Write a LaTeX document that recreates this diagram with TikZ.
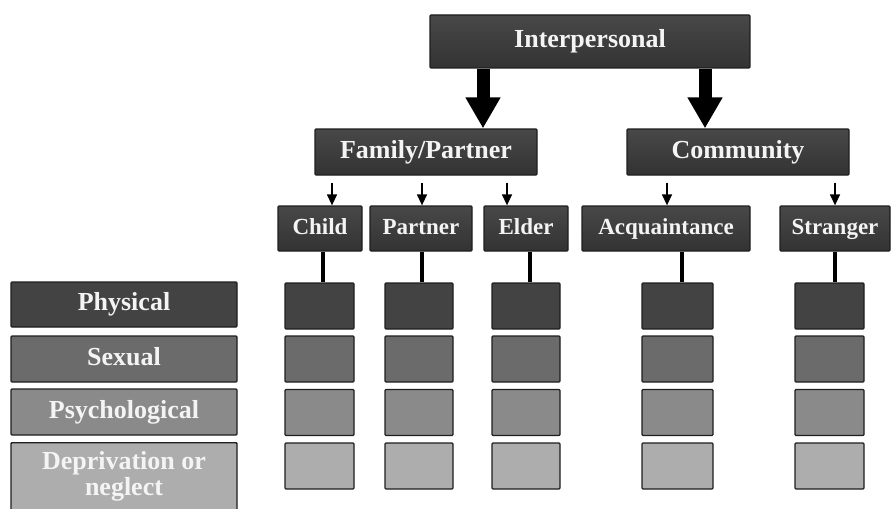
\documentclass[tikz,border=0pt]{standalone}
\usepackage{fontspec}
\setmainfont{Liberation Serif}
\usetikzlibrary{arrows.meta}
\definecolor{topA}{HTML}{484848}
\definecolor{topB}{HTML}{333333}
\definecolor{rowA}{HTML}{434343}
\definecolor{rowB}{HTML}{6B6B6B}
\definecolor{rowC}{HTML}{8A8A8A}
\definecolor{rowD}{HTML}{ADADAD}
\definecolor{edge}{HTML}{1E1E1E}
\definecolor{txt}{HTML}{F4F4F4}
\begin{document}
\begin{tikzpicture}[x=1pt,y=-1pt,
  base/.style={draw=edge, line width=1.3pt, inner sep=0pt, rounded corners=1pt, text=txt},
  bigtxt/.style={font=\fontsize{26}{28}\selectfont\bfseries, text height=18pt, text depth=6pt},
  smalltxt/.style={font=\fontsize{23}{25}\selectfont\bfseries, text height=16pt, text depth=5pt},
  catbox/.style={base, top color=topA, bottom color=topB, bigtxt},
  subbox/.style={base, top color=topA, bottom color=topB, smalltxt, minimum height=45pt},
  cell/.style={base, minimum height=46pt},
  bigarrow/.style={line width=13pt, -{Triangle[width=33pt,length=31pt]}},
  smallarrow/.style={line width=1.4pt, -{Triangle[width=10pt,length=11pt]}, shorten <=7pt},
  stem/.style={line width=4pt}
]
\useasboundingbox (0,0) rectangle (893,508);

% top level
\node[catbox, minimum width=320pt, minimum height=53pt] (ip) at (590,41.5) {Interpersonal};
\node[catbox, minimum width=222pt, minimum height=46pt] (fam) at (426,152) {Family/Partner};
\node[catbox, minimum width=222pt, minimum height=46pt] (com) at (738,152) {Community};

\draw[bigarrow] ([xshift=57pt]fam.north |- ip.south) -- ([xshift=57pt]fam.north);
\draw[bigarrow] ([xshift=-33pt]com.north |- ip.south) -- ([xshift=-33pt]com.north);

% second level
\node[subbox, minimum width=84pt] (child) at (320,228.5) {Child};
\node[subbox, minimum width=102pt] (partner) at (421,228.5) {Partner};
\node[subbox, minimum width=84pt] (elder) at (526,228.5) {Elder};
\node[subbox, minimum width=168pt] (acq) at (666,228.5) {Acquaintance};
\node[subbox, minimum width=110pt] (str) at (835,228.5) {Stranger};

\draw[smallarrow] ([xshift=12pt]child.north |- fam.south) -- ([xshift=12pt]child.north);
\draw[smallarrow] ([xshift=1pt]partner.north |- fam.south) -- ([xshift=1pt]partner.north);
\draw[smallarrow] ([xshift=-19pt]elder.north |- fam.south) -- ([xshift=-19pt]elder.north);
\draw[smallarrow] ([xshift=1pt]acq.north |- com.south) -- ([xshift=1pt]acq.north);
\draw[smallarrow] (str.north |- com.south) -- (str.north);

% left labels
\node[base, fill=rowA, bigtxt, minimum width=226pt, minimum height=45pt] (lA) at (124,304.5) {Physical};
\node[base, fill=rowB, bigtxt, minimum width=226pt, minimum height=46pt] (lB) at (124,359) {Sexual};
\node[base, fill=rowC, bigtxt, minimum width=226pt, minimum height=46pt] (lC) at (124,412) {Psychological};
\node[base, fill=rowD, minimum width=226pt, minimum height=100pt, anchor=north] (lD) at (124,442) {};
\node[text=txt, font=\fontsize{26}{28}\selectfont\bfseries, align=center, inner sep=0pt, anchor=base] (lDt) at (124,495) {Deprivation or\\[-2pt]neglect};

% grid
\foreach \c/\x/\w in {1/319.5/69, 2/419/68, 3/526/68, 4/677.5/71, 5/829.5/69}{
  \node[cell, fill=rowA, minimum width=\w pt] (g\c a) at (\x,306) {};
  \node[cell, fill=rowB, minimum width=\w pt] (g\c b) at (\x,359) {};
  \node[cell, fill=rowC, minimum width=\w pt] (g\c c) at (\x,412.5) {};
  \node[cell, fill=rowD, minimum width=\w pt] (g\c d) at (\x,466) {};
}

% stems
\draw[stem] ([xshift=3pt]child.south) -- ([xshift=3pt]child.south |- g1a.north);
\draw[stem] ([xshift=1pt]partner.south) -- ([xshift=1pt]partner.south |- g2a.north);
\draw[stem] ([xshift=4pt]elder.south) -- ([xshift=4pt]elder.south |- g3a.north);
\draw[stem] ([xshift=16pt]acq.south) -- ([xshift=16pt]acq.south |- g4a.north);
\draw[stem] (str.south) -- (str.south |- g5a.north);
\end{tikzpicture}
\end{document}
